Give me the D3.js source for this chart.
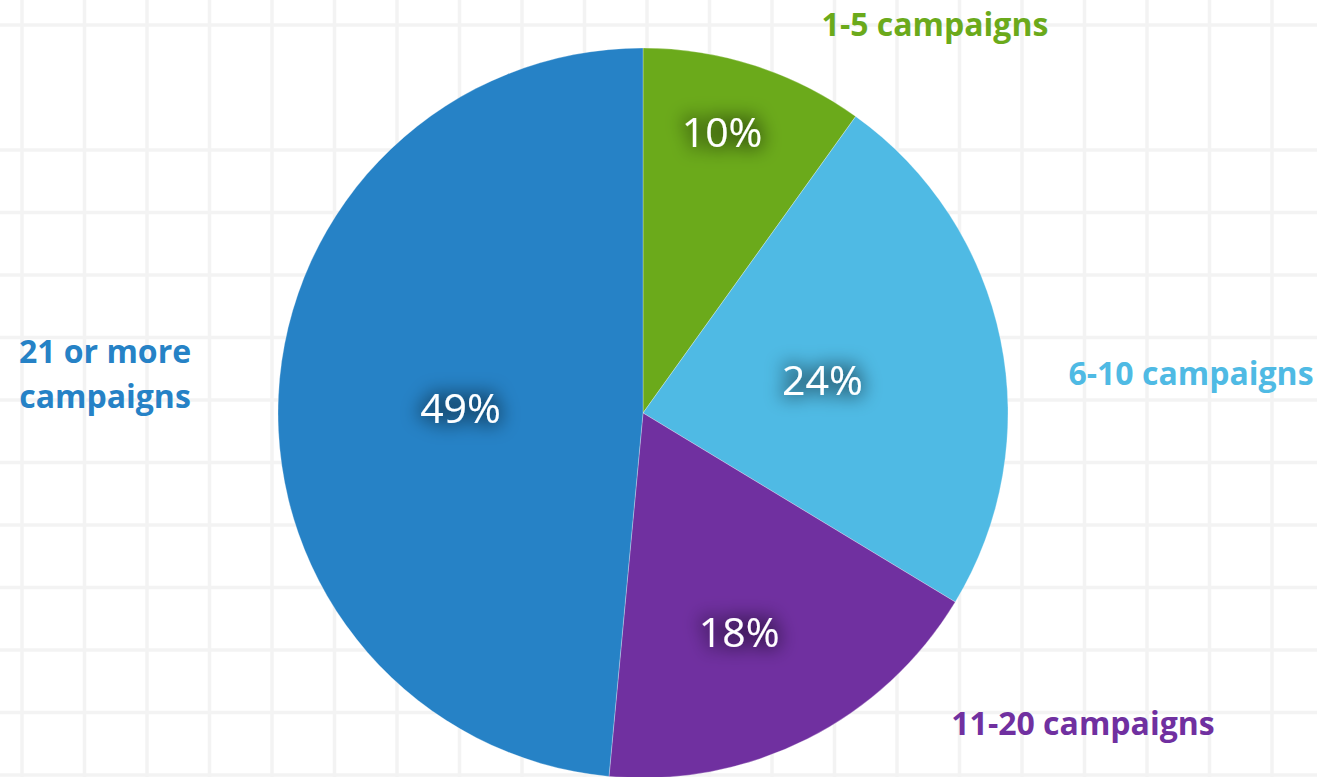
<!DOCTYPE html>
<html>
<head>
<meta charset="utf-8">
<script src="https://cdn.jsdelivr.net/npm/d3@7"></script>
<style>
  html, body { margin: 0; padding: 0; background: #ffffff; }
  svg { display: block; }
</style>
</head>
<body>
<svg id="chart" width="1317" height="777"></svg>
<script>
// ---- data ----
const categories = ["1-5 campaigns", "6-10 campaigns", "11-20 campaigns", "21 or more campaigns"];
const values = [10, 24, 18, 49];
const percentLabels = ["10%", "24%", "18%", "49%"];
const colors = ["#6BAA1B", "#4FBAE4", "#7030A0", "#2682C6"];

// ---- layout ----
const W = 1317, H = 777;
const cx = 643, cy = 413, R = 365;
// label placement tuning (radius fraction, angle shift in degrees)
const labelRadiusFrac = [0.80, 0.50, 0.655, 0.50];
const labelAngleShift = [-2.1, 1.1, 3.0, -1.1];
// outer category label anchors
const outerLabelPos = [
  {x: 935, y: 36, lines: ["1-5 campaigns"]},
  {x: 1191, y: 385, lines: ["6-10 campaigns"]},
  {x: 1083, y: 735, lines: ["11-20 campaigns"]},
  {x: 105, y: 363, lines: ["21 or more", "campaigns"]}
];

const svg = d3.select("#chart");

// filter for glow behind percent labels
const defs = svg.append("defs");
const f = defs.append("filter").attr("id", "glow")
  .attr("x", "-60%").attr("y", "-80%").attr("width", "220%").attr("height", "260%");
f.append("feMorphology").attr("in", "SourceAlpha").attr("operator", "dilate").attr("radius", 3).attr("result", "d");
f.append("feGaussianBlur").attr("in", "d").attr("stdDeviation", 9).attr("result", "b");
f.append("feFlood").attr("flood-color", "#000").attr("flood-opacity", 0.4).attr("result", "c");
f.append("feComposite").attr("in", "c").attr("in2", "b").attr("operator", "in").attr("result", "s");
const m = f.append("feMerge");
m.append("feMergeNode").attr("in", "s");
m.append("feMergeNode").attr("in", "SourceGraphic");

// background grid
const gridStep = 62.5;
const vLines = d3.range(22, W + 1, gridStep);
const hLines = d3.range(25, H + 5, gridStep).filter(y => Math.abs(y - 87.5) > 1);
const grid = svg.append("g").attr("stroke", "#f3f3f3").attr("stroke-width", 3.5);
grid.selectAll("line.v").data(vLines).join("line")
  .attr("x1", d => d).attr("x2", d => d).attr("y1", 0).attr("y2", H);
grid.selectAll("line.h").data(hLines).join("line")
  .attr("x1", 0).attr("x2", W).attr("y1", d => d).attr("y2", d => d);

// pie
const pie = d3.pie().sort(null).value(d => d);
const arcs = pie(values);
const arc = d3.arc().innerRadius(0).outerRadius(R);

const g = svg.append("g").attr("transform", `translate(${cx},${cy})`);
g.selectAll("path").data(arcs).join("path")
  .attr("d", arc)
  .attr("fill", (d, i) => colors[i])
  .attr("stroke", "rgba(255,255,255,0.35)")
  .attr("stroke-width", 0.8);

// percent labels
g.selectAll("text.pct").data(arcs).join("text")
  .attr("class", "pct")
  .attr("transform", (d, i) => {
    const a = (d.startAngle + d.endAngle) / 2 + labelAngleShift[i] * Math.PI / 180;
    const r = R * labelRadiusFrac[i];
    return `translate(${r * Math.sin(a)},${-r * Math.cos(a)})`;
  })
  .attr("text-anchor", "middle")
  .attr("dy", "0.36em")
  .attr("fill", "#ffffff")
  .attr("font-family", "'Open Sans', sans-serif")
  .attr("font-size", 41)
  .attr("filter", "url(#glow)")
  .text((d, i) => percentLabels[i]);

// outer category labels
const ol = svg.append("g").attr("font-family", "'Open Sans', sans-serif")
  .attr("font-weight", "bold").attr("font-size", 32).attr("text-anchor", "middle");
categories.forEach((c, i) => {
  const p = outerLabelPos[i];
  const t = ol.append("text").attr("x", p.x).attr("y", p.y).attr("fill", colors[i]);
  p.lines.forEach((ln, j) => {
    t.append("tspan").attr("x", p.x).attr("dy", j === 0 ? 0 : 45).text(ln);
  });
});
</script>
</body>
</html>
